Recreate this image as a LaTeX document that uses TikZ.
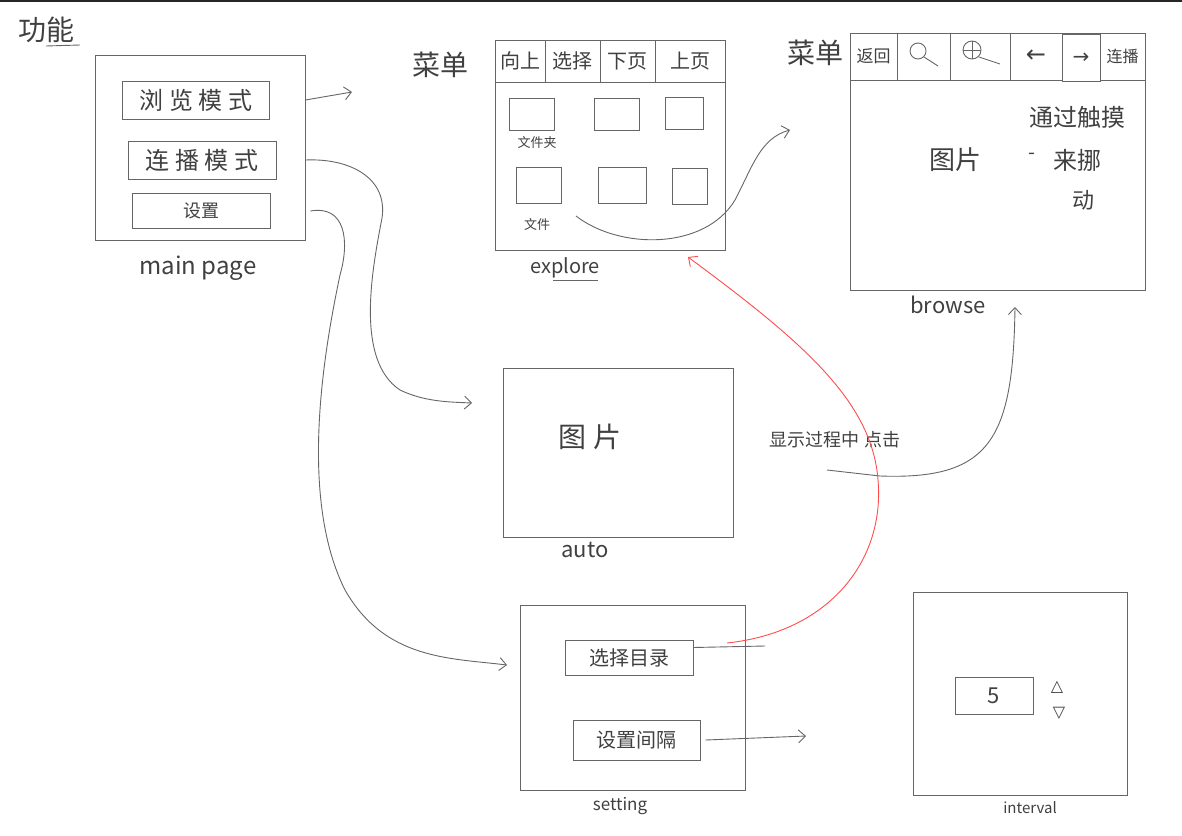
\documentclass[tikz,border=0pt]{standalone}
\usepackage{fontspec}
\setmainfont{Noto Sans CJK SC}
\newfontfamily\symf{DejaVu Sans}
\usetikzlibrary{arrows.meta}
\newcommand\fsz[1]{\fontsize{#1}{#1}\selectfont}
\tikzset{
  ink/.style={draw=black!60, line width=0.9pt},
  box/.style={ink, rectangle, inner sep=0pt, text=black!75},
  conn/.style={black!60, line width=0.9pt, -{Straight Barb[length=7pt,width=13pt]}},
  redconn/.style={red!70, line width=0.9pt, -{Straight Barb[length=7pt,width=13pt]}},
  lbl/.style={text=black!75, inner sep=0pt},
}
\begin{document}
\begin{tikzpicture}[x=1pt,y=-1pt]
\useasboundingbox (0,0) rectangle (1182,835);
\fill[black!85] (0,0) rectangle (1182,2);

% title
\node[lbl, font=\fsz{28}] (title) at (46,30) {功能};
\draw[ink] (46,46) -- (80,45);

% ---------- main page ----------
\node[box, minimum width=210pt, minimum height=185pt] (main) at (200,148) {};
\node[box, minimum width=147pt, minimum height=38pt, font=\fsz{24}] (bmode) at (196,100) {浏 览 模 式};
\node[box, minimum width=148pt, minimum height=38pt, font=\fsz{24}] (pmode) at (202,160) {连 播 模 式};
\node[box, minimum width=138pt, minimum height=35pt, font=\fsz{18}] (smode) at (201,211) {设置};
\node[lbl, font=\fsz{24}] (mainlbl) at (198,268) {main page};

% ---------- explore ----------
\node[lbl, font=\fsz{28}] (menu1) at (440,65) {菜单};
\node[box, minimum width=230pt, minimum height=210pt] (explore) at (610,145) {};
\node[box, minimum width=50pt, minimum height=42pt, font=\fsz{20}] (e1) at (520,61) {向上};
\node[box, minimum width=55pt, minimum height=42pt, font=\fsz{20}] (e2) at (572.5,61) {选择};
\node[box, minimum width=55pt, minimum height=42pt, font=\fsz{20}] (e3) at (627.5,61) {下页};
\node[box, minimum width=70pt, minimum height=42pt, font=\fsz{20}] (e4) at (690,61) {上页};
\node[box, minimum width=45pt, minimum height=32pt] (t1) at (532,114) {};
\node[box, minimum width=45pt, minimum height=32pt] (t2) at (617,114) {};
\node[box, minimum width=38pt, minimum height=32pt] (t3) at (684,113) {};
\node[box, minimum width=45pt, minimum height=36pt] (t4) at (539,185) {};
\node[box, minimum width=48pt, minimum height=36pt] (t5) at (622,185) {};
\node[box, minimum width=35pt, minimum height=36pt] (t6) at (690,186) {};
\node[lbl, font=\fsz{13}] (folder) at (537,143) {文件夹};
\node[lbl, font=\fsz{13}] (file) at (537,225) {文件};
\node[lbl, font=\fsz{20}] (explbl) at (565,268) {explore};
\draw[ink] (553,280) -- (598,280);

% ---------- browse ----------
\node[lbl, font=\fsz{28}] (menu2) at (815,53) {菜单};
\node[box, minimum width=295pt, minimum height=257pt] (browse) at (997.5,161.5) {};
\node[box, minimum width=47pt, minimum height=47pt, font=\fsz{17}] (b1) at (873.5,56.5) {返回};
\node[box, minimum width=53pt, minimum height=47pt] (b2) at (923.5,56.5) {};
\node[box, minimum width=60pt, minimum height=47pt] (b3) at (980,56.5) {};
\node[box, minimum width=52pt, minimum height=47pt, font=\symf\fsz{24}] (b4) at (1036,56.5) {←};
\node[box, minimum width=38pt, minimum height=47pt, font=\symf\fsz{20}] (b5) at (1081,58) {→};
\node[box, minimum width=45pt, minimum height=47pt, font=\fsz{16}] (b6) at (1122.5,56.5) {连播};
% magnifier icons
\draw[ink] (918,51) circle (8);
\draw[ink] (924,57) -- (938,66);
\draw[ink] (972,50) circle (9);
\draw[ink] (963,50) -- (981,50) (972,41) -- (972,59);
\draw[ink] (979,57) -- (1000,64);
\node[lbl, font=\fsz{24}] (bt1) at (1077,117) {通过触摸};
\node[lbl, font=\fsz{26}] (bt2) at (955,160) {图片};
\node[lbl, font=\fsz{20}] (bt3) at (1032,156) {-};
\node[lbl, font=\fsz{24}] (bt4) at (1077,160) {来挪};
\node[lbl, font=\fsz{22}] (bt5) at (1083,200) {动};
\node[lbl, font=\fsz{22}] (brlbl) at (948,305) {browse};

% ---------- auto ----------
\node[box, minimum width=230pt, minimum height=169pt] (auto) at (618,452.5) {};
\node[lbl, font=\fsz{28}] (pic) at (590,437) {图 片};
\node[lbl, font=\fsz{22}] (autolbl) at (585,550) {auto};
\node[lbl, font=\fsz{18}] (clicklbl) at (835,440) {显示过程中 点击};

% ---------- setting ----------
\node[box, minimum width=225pt, minimum height=185pt] (setting) at (632.5,697.5) {};
\node[box, minimum width=128pt, minimum height=35pt, font=\fsz{20}] (dir) at (629,657.5) {选择目录};
\node[box, minimum width=127pt, minimum height=40pt, font=\fsz{20}] (intv) at (636.5,740) {设置间隔};
\node[lbl, font=\fsz{17}] (setlbl) at (620,806) {setting};

% ---------- interval ----------
\node[box, minimum width=214pt, minimum height=203pt] (interval) at (1020,693.5) {};
\node[box, minimum width=78pt, minimum height=37pt, font=\fsz{22}] (five) at (994,695.5) {5};
\node[lbl, font=\symf\fsz{16}] (up) at (1057,687) {△};
\node[lbl, font=\symf\fsz{16}] (down) at (1059,713) {▽};
\node[lbl, font=\fsz{15}] (intlbl) at (1030,808) {interval};

% ---------- connectors ----------
\coordinate (aEnd) at (352,92);
\draw[conn] (main.east |- bmode.east) -- (aEnd);

\coordinate (bEnd) at (472,403);
\draw[conn] (main.east |- pmode.east) .. controls (350,158) and (388,178) .. (382,218)
  .. controls (372,270) and (355,360) .. (400,390) .. controls (425,402) and (450,402) .. (bEnd);

\coordinate (cEnd) at (507,665);
\draw[conn] ([xshift=5pt]main.east |- smode.east) .. controls (345,205) and (350,240) .. (340,275)
  .. controls (322,360) and (300,500) .. (345,590) .. controls (385,660) and (450,658) .. (cEnd);

\coordinate (dStart) at (576,216);
\coordinate (dEnd) at (790,130);
\draw[conn] (dStart) .. controls (620,250) and (705,250) .. (735,200) .. controls (752,168) and (760,138) .. (dEnd);

\coordinate (eStart) at (827,470);
\coordinate (eEnd) at (1015,307);
\draw[conn] (eStart) -- (880,476) .. controls (990,480) and (1013,440) .. (eEnd);

\coordinate (dirEnd) at (765,646);
\draw[ink] ([yshift=10pt]dir.east) -- (dirEnd);

\coordinate (fStart) at (727,643);
\coordinate (fEnd) at (688,257);
\draw[redconn] (fStart) .. controls (830,632) and (885,560) .. (878,480) .. controls (872,400) and (800,340) .. (fEnd);

\coordinate (gEnd) at (806,736);
\draw[conn] (intv.east) ++(5pt,0) -- (gEnd);
\end{tikzpicture}
\end{document}
